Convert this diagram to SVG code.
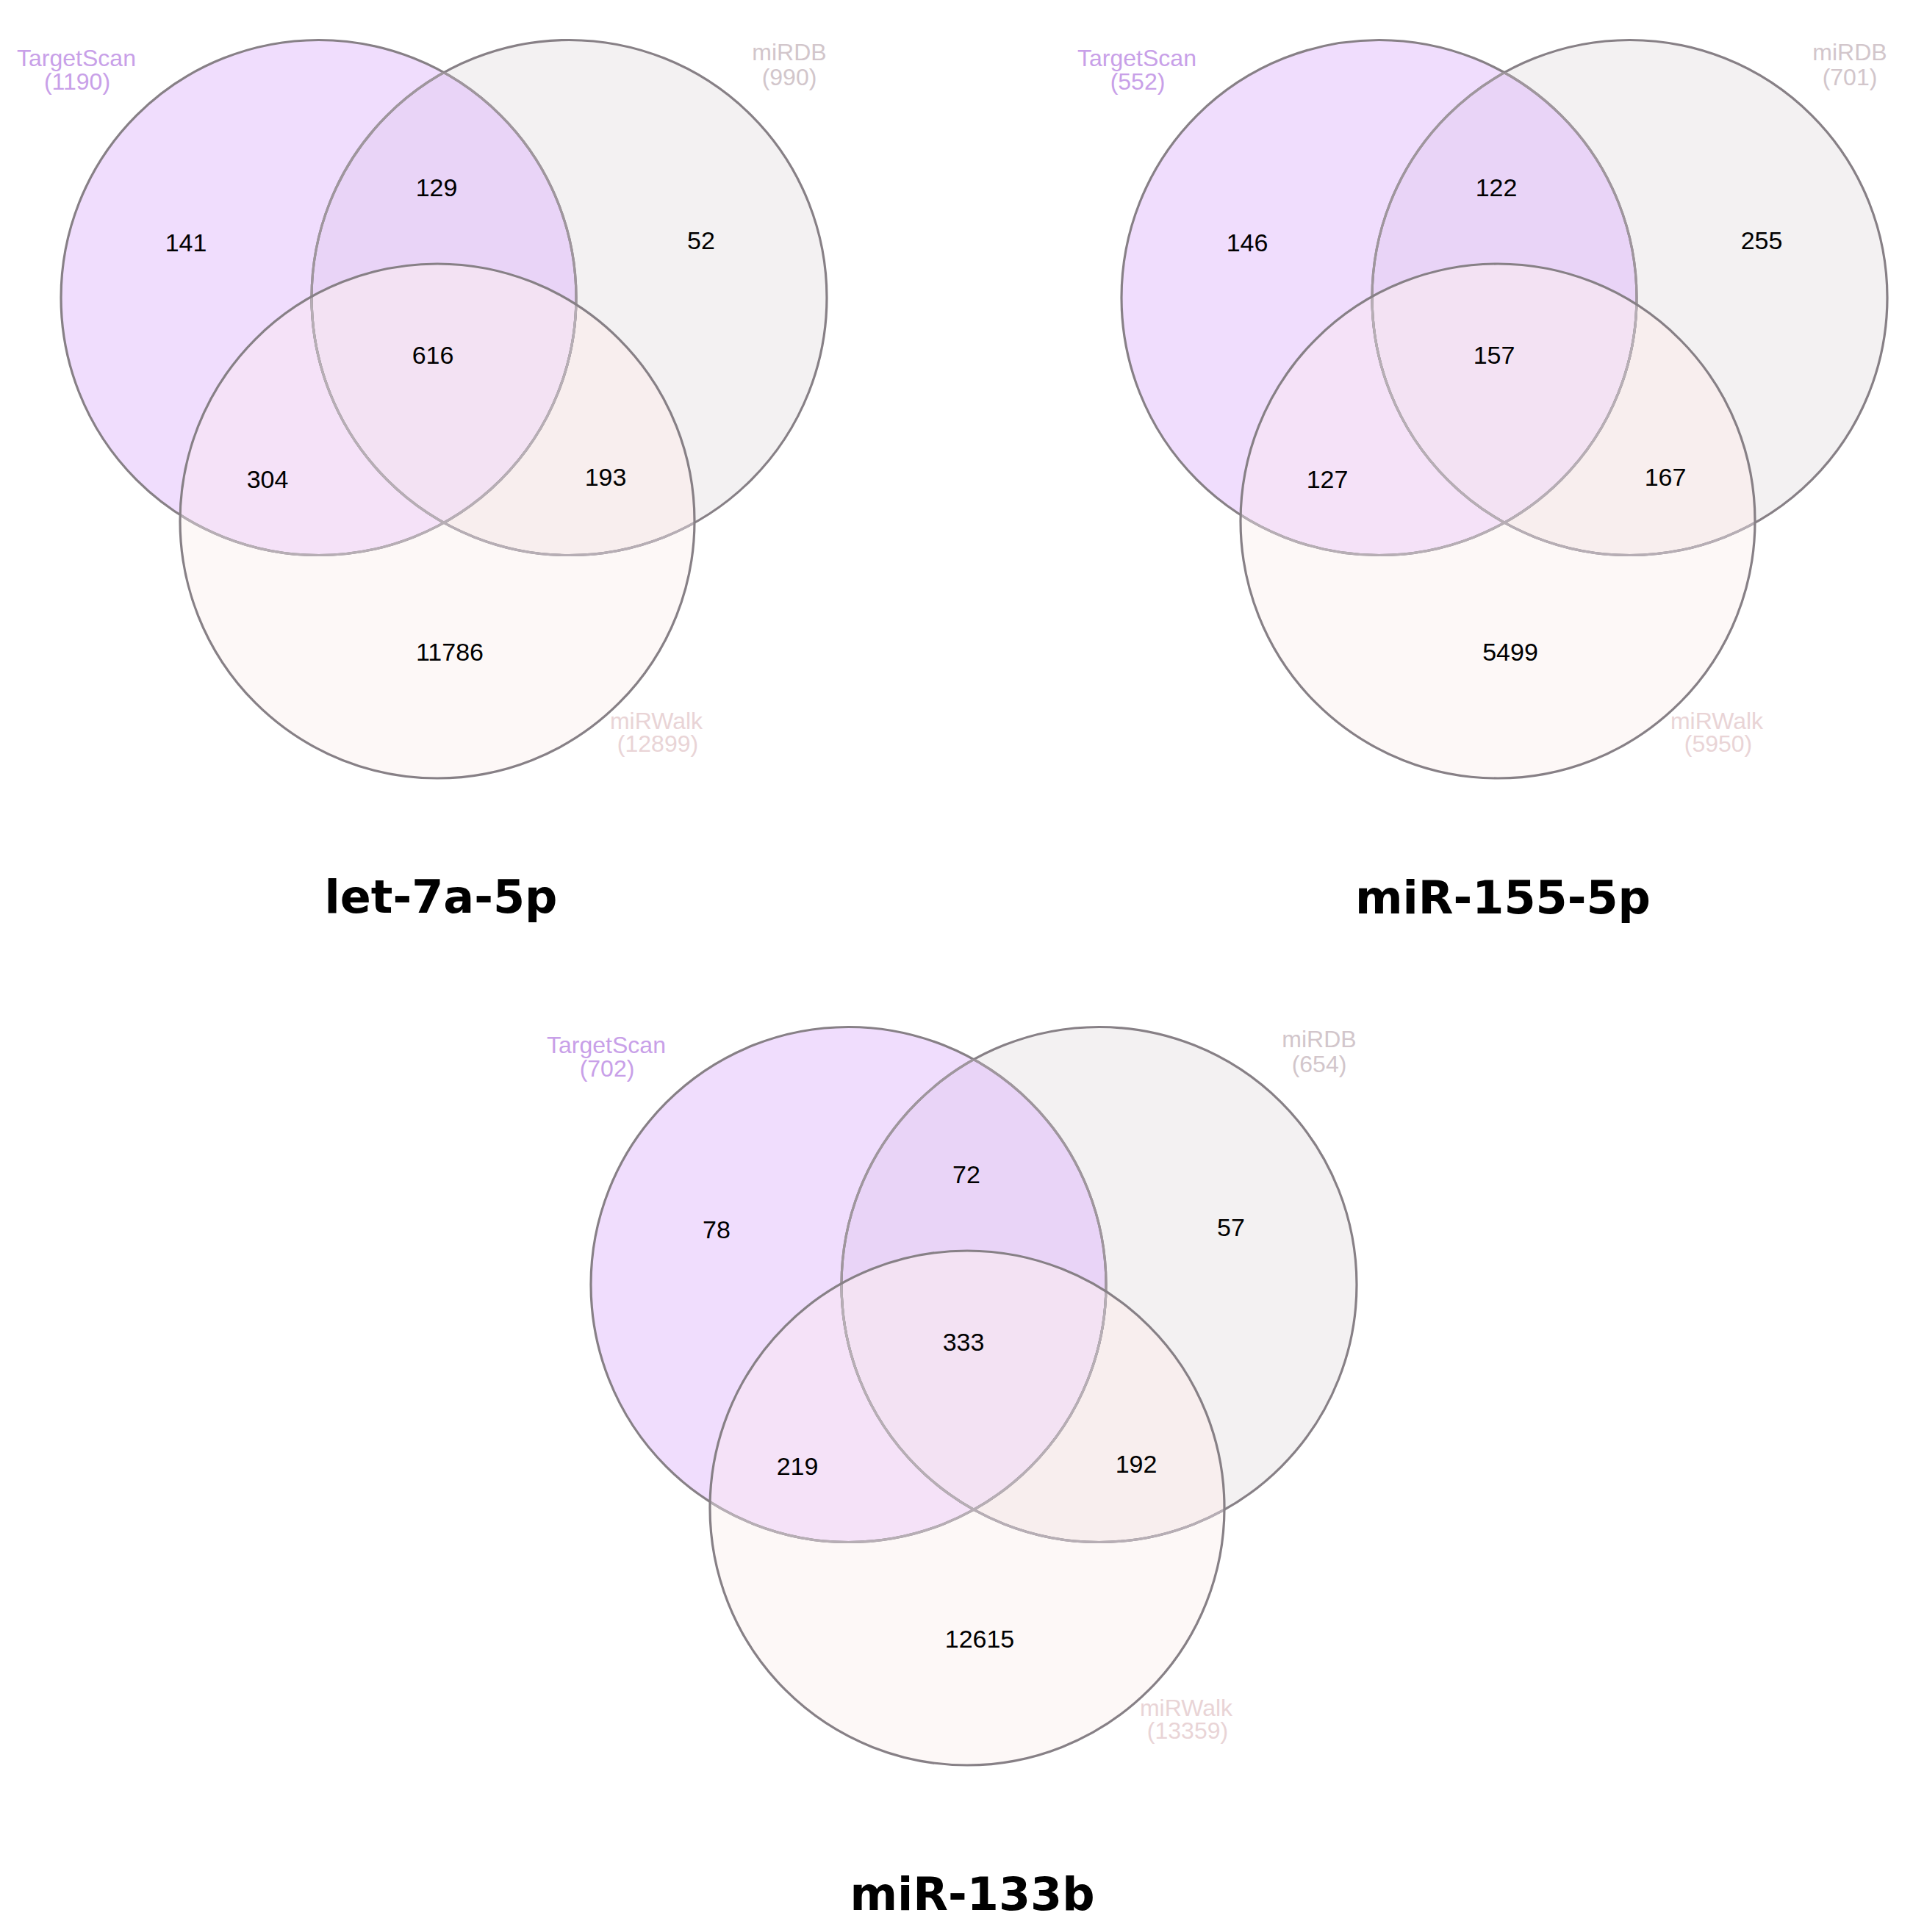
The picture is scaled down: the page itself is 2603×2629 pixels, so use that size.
<svg xmlns="http://www.w3.org/2000/svg" xmlns:xlink="http://www.w3.org/1999/xlink" width="2603" height="2629" viewBox="0 0 2603 2629">
<style>
.num{font-family:"Liberation Sans",Arial,sans-serif;font-size:34px;fill:#000;text-anchor:middle}
.lab{font-family:"Liberation Sans",Arial,sans-serif;font-size:32px;text-anchor:middle}
.ts-lab{fill:#c8a0e8}
.db-lab{fill:#d2c6cb}
.wk-lab{fill:#e9d4d6}
.title{font-family:"DejaVu Sans",Verdana,sans-serif;font-weight:bold;font-size:62px;fill:#000;text-anchor:middle}
.ring{fill:none;stroke:#878086;stroke-width:3.2}
.ring-mid{fill:none;stroke:#9f969d;stroke-width:3.2}
.ring-light{fill:none;stroke:#b7aeb5;stroke-width:3.2}
.f-ts{fill:#f0ddfd}
.f-db{fill:#f3f1f2}
.f-wk{fill:#fdf8f7}
.f-tsdb{fill:#e9d4f7}
.f-tswk{fill:#f5e2f8}
.f-dbwk{fill:#f8eeee}
.f-all{fill:#f3e2f3}
</style>
<defs>
<clipPath id="cTS" clipPathUnits="userSpaceOnUse"><circle cx="433.5" cy="405" r="350.5"/></clipPath>
<clipPath id="cDB" clipPathUnits="userSpaceOnUse"><circle cx="774.5" cy="405" r="350.5"/></clipPath>
<clipPath id="cWK" clipPathUnits="userSpaceOnUse"><circle cx="595" cy="709" r="350"/></clipPath>
<g id="venn-shape">
<circle class="f-ts" cx="433.5" cy="405" r="350.5"/>
<circle class="f-db" cx="774.5" cy="405" r="350.5"/>
<circle class="f-wk" cx="595" cy="709" r="350"/>
<g clip-path="url(#cTS)"><circle class="f-tsdb" cx="774.5" cy="405" r="350.5"/><circle class="f-tswk" cx="595" cy="709" r="350"/></g>
<g clip-path="url(#cDB)"><circle class="f-dbwk" cx="595" cy="709" r="350"/></g>
<g clip-path="url(#cTS)"><g clip-path="url(#cDB)"><circle class="f-all" cx="595" cy="709" r="350"/></g></g>
<circle class="ring" cx="433.5" cy="405" r="350.5"/>
<circle class="ring" cx="774.5" cy="405" r="350.5"/>
<g clip-path="url(#cTS)"><circle class="ring-mid" cx="774.5" cy="405" r="350.5"/></g>
<g clip-path="url(#cDB)"><circle class="ring-mid" cx="433.5" cy="405" r="350.5"/></g>
<g clip-path="url(#cWK)"><circle class="ring-light" cx="433.5" cy="405" r="350.5"/><circle class="ring-light" cx="774.5" cy="405" r="350.5"/></g>
<circle class="ring" cx="595" cy="709" r="350"/>
</g>
</defs>

<g id="venn-let-7a-5p">
<use xlink:href="#venn-shape" href="#venn-shape"/>
<g id="let7a-targetscan"><text class="lab ts-lab" x="104" y="90">TargetScan</text><text class="lab ts-lab" x="105" y="122">(1190)</text></g>
<g id="let7a-mirdb"><text class="lab db-lab" x="1074" y="82">miRDB</text><text class="lab db-lab" x="1074" y="116">(990)</text></g>
<g id="let7a-mirwalk"><text class="lab wk-lab" x="893" y="992">miRWalk</text><text class="lab wk-lab" x="895" y="1023">(12899)</text></g>
<g id="let7a-counts">
<text class="num" x="253" y="342">141</text>
<text class="num" x="594" y="267">129</text>
<text class="num" x="954" y="339">52</text>
<text class="num" x="589" y="495">616</text>
<text class="num" x="364" y="664">304</text>
<text class="num" x="824" y="661">193</text>
<text class="num" x="612" y="899">11786</text>
</g>
<text class="title" x="600" y="1242">let-7a-5p</text>
</g>

<g id="venn-miR-155-5p" transform="translate(1443,0)">
<use xlink:href="#venn-shape" href="#venn-shape"/>
<g id="mir155-targetscan"><text class="lab ts-lab" x="104" y="90">TargetScan</text><text class="lab ts-lab" x="105" y="122">(552)</text></g>
<g id="mir155-mirdb"><text class="lab db-lab" x="1074" y="82">miRDB</text><text class="lab db-lab" x="1074" y="116">(701)</text></g>
<g id="mir155-mirwalk"><text class="lab wk-lab" x="893" y="992">miRWalk</text><text class="lab wk-lab" x="895" y="1023">(5950)</text></g>
<g id="mir155-counts">
<text class="num" x="254" y="342">146</text>
<text class="num" x="593" y="267">122</text>
<text class="num" x="954" y="339">255</text>
<text class="num" x="590" y="495">157</text>
<text class="num" x="363" y="664">127</text>
<text class="num" x="823" y="661">167</text>
<text class="num" x="612" y="899">5499</text>
</g>
<text class="title" x="602" y="1243">miR-155-5p</text>
</g>

<g id="venn-miR-133b" transform="translate(721,1343)">
<use xlink:href="#venn-shape" href="#venn-shape"/>
<g id="mir133b-targetscan"><text class="lab ts-lab" x="104" y="90">TargetScan</text><text class="lab ts-lab" x="105" y="122">(702)</text></g>
<g id="mir133b-mirdb"><text class="lab db-lab" x="1074" y="82">miRDB</text><text class="lab db-lab" x="1074" y="116">(654)</text></g>
<g id="mir133b-mirwalk"><text class="lab wk-lab" x="893" y="992">miRWalk</text><text class="lab wk-lab" x="895" y="1023">(13359)</text></g>
<g id="mir133b-counts">
<text class="num" x="254" y="342">78</text>
<text class="num" x="594" y="267">72</text>
<text class="num" x="954" y="339">57</text>
<text class="num" x="590" y="495">333</text>
<text class="num" x="364" y="664">219</text>
<text class="num" x="825" y="661">192</text>
<text class="num" x="612" y="899">12615</text>
</g>
<text class="title" x="602" y="1256">miR-133b</text>
</g>
</svg>
